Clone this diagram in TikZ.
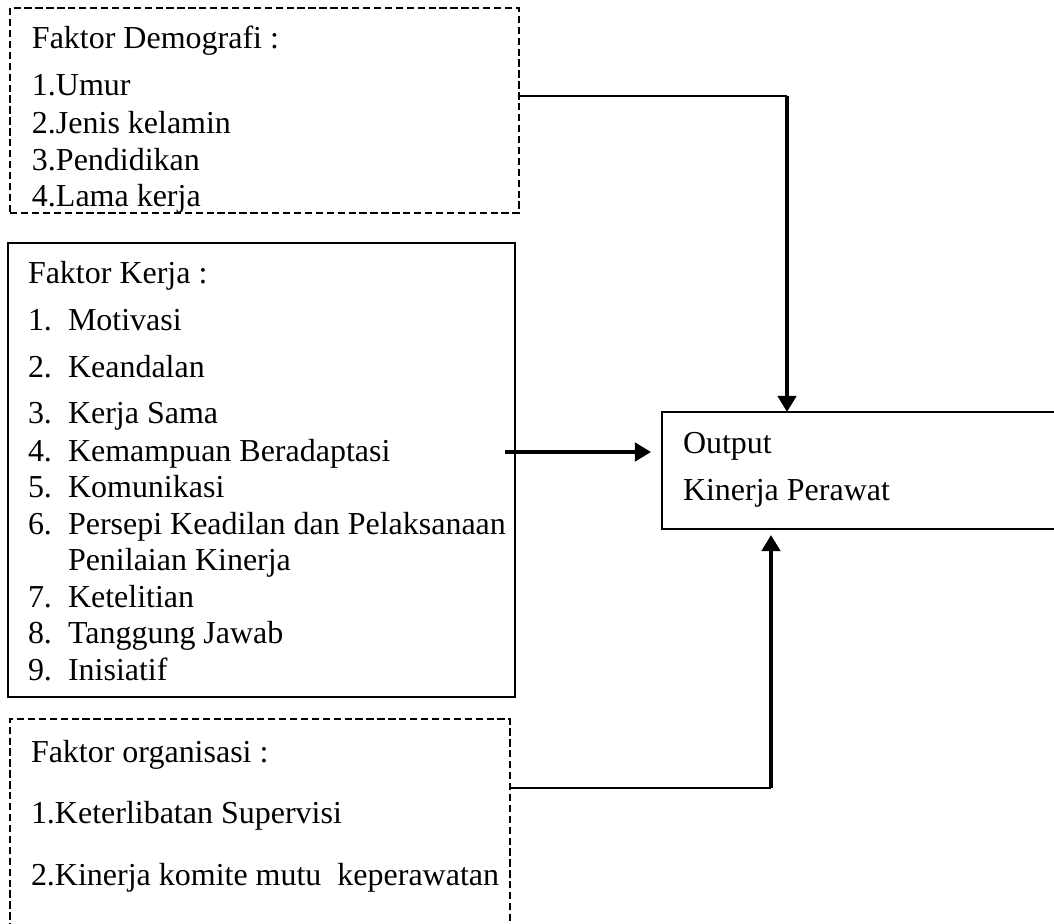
\documentclass[tikz,border=0pt]{standalone}
\usepackage{fontspec}
\setmainfont{Liberation Serif}
\usetikzlibrary{arrows.meta}
\newcommand\itm[2]{\makebox[15.4pt][l]{#1}#2}
\begin{document}
\begin{tikzpicture}[x=0.3846pt,y=-0.3846pt,
  txt/.style={anchor=base west, inner sep=0pt, outer sep=0pt, font=\fontsize{12.3pt}{14pt}\selectfont},
  boxsolid/.style={draw, line width=0.95pt, inner sep=0pt, outer sep=0pt},
  boxdash/.style={draw, line width=1pt, dash pattern=on 2.8pt off 1.4pt, inner sep=0pt, outer sep=0pt},
  thinline/.style={line width=0.8pt},
  arr/.style={line width=1.55pt, -{Triangle[length=6.2pt,width=7pt]}}]
\useasboundingbox (0,0) rectangle (1054,923);
\clip (0,0) rectangle (1054,923);

% boxes
\node[boxdash, minimum width=509*0.3846pt, minimum height=205*0.3846pt] (demo) at (264.5,110.5) {};
\node[boxsolid, minimum width=507*0.3846pt, minimum height=454*0.3846pt] (kerja) at (261.5,470) {};
\node[boxdash, minimum width=500*0.3846pt, minimum height=281*0.3846pt] (org) at (260,859.5) {};
\node[boxsolid, minimum width=538*0.3846pt, minimum height=117*0.3846pt] (out) at (931,470.5) {};

% texts: Faktor Demografi
\node[txt] (d0) at (32,48) {Faktor Demografi :};
\node[txt] (d1) at (32,95) {1.Umur};
\node[txt] (d2) at (32,133) {2.Jenis kelamin};
\node[txt] (d3) at (32,170) {3.Pendidikan};
\node[txt] (d4) at (32,206) {4.Lama kerja};

% Faktor Kerja
\node[txt] (k0) at (28,283) {Faktor Kerja :};
\node[txt] (k1) at (28,330) {\itm{1.}{Motivasi}};
\node[txt] (k2) at (28,377) {\itm{2.}{Keandalan}};
\node[txt] (k3) at (28,423) {\itm{3.}{Kerja Sama}};
\node[txt] (k4) at (28,461) {\itm{4.}{Kemampuan Beradaptasi}};
\node[txt] (k5) at (28,497.5) {\itm{5.}{Komunikasi}};
\node[txt] (k6) at (28,534) {\itm{6.}{Persepi Keadilan dan Pelaksanaan}};
\node[txt] (k6b) at (68,570.5) {Penilaian Kinerja};
\node[txt] (k7) at (28,607) {\itm{7.}{Ketelitian}};
\node[txt] (k8) at (28,643.5) {\itm{8.}{Tanggung Jawab}};
\node[txt] (k9) at (28,680) {\itm{9.}{Inisiatif}};

% Faktor organisasi
\node[txt] (o0) at (31,762) {Faktor organisasi :};
\node[txt] (o1) at (31,823) {1.Keterlibatan Supervisi};
\node[txt] (o2) at (31,885) {2.Kinerja komite mutu\ \ keperawatan};

% Output
\node[txt] (t0) at (683,453) {Output};
\node[txt] (t1) at (683,500) {Kinerja Perawat};

% connectors
\coordinate (c1) at (787,96);
\coordinate (ks) at (505,452);
\coordinate (c3) at (771,788);

\draw[thinline] (demo.east |- c1) -- (c1);
\draw[arr] (c1) -- (out.north -| c1);

\draw[arr, shorten >=4.2pt] (ks) -- (out.west |- ks);

\draw[thinline] (org.east |- c3) -- (c3);
\draw[arr, shorten >=2.3pt] (c3) -- (out.south -| c3);
\end{tikzpicture}
\end{document}
